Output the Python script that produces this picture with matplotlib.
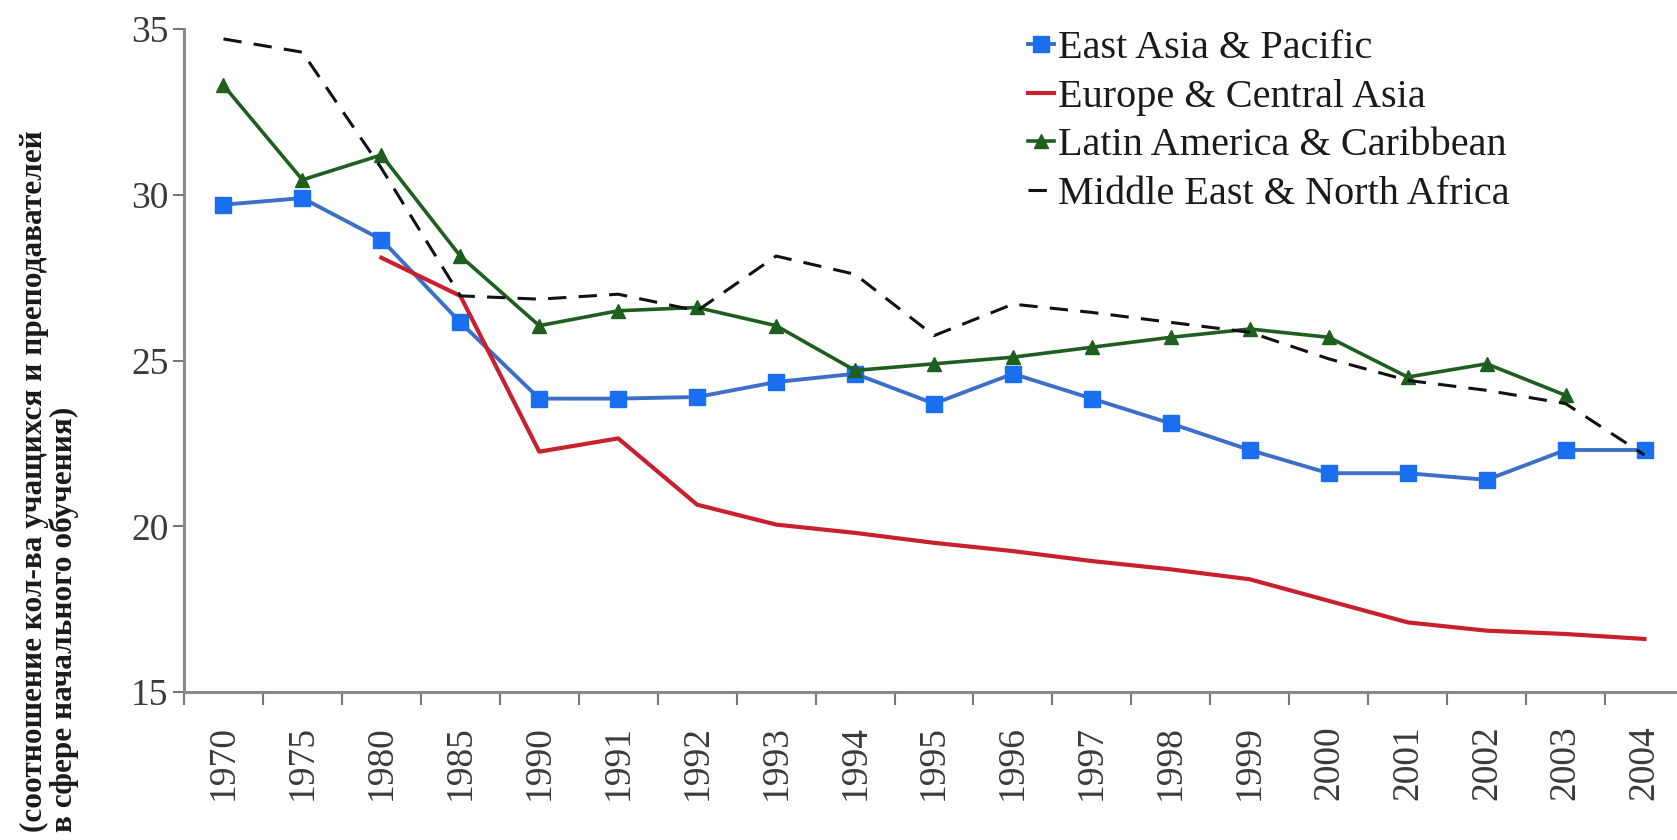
import numpy as np
import matplotlib
matplotlib.use('Agg')
import matplotlib.pyplot as plt
from matplotlib.ticker import FixedLocator, NullFormatter

plt.rcParams['font.family'] = ['Liberation Serif', 'DejaVu Serif']

# Данные (чтение с графика)
years = ['1970', '1975', '1980', '1985', '1990', '1991', '1992', '1993', '1994', '1995',
         '1996', '1997', '1998', '1999', '2000', '2001', '2002', '2003', '2004']

east_asia = [29.7, 29.9, 28.65, 26.15, 23.85, 23.85, 23.9, 24.35, 24.6, 23.7,
             24.6, 23.85, 23.1, 22.3, 21.6, 21.6, 21.4, 22.3, 22.3]
europe = [np.nan, np.nan, 28.1, 26.95, 22.25, 22.65, 20.65, 20.05, 19.8, 19.5,
          19.25, 18.95, 18.7, 18.4, 17.75, 17.1, 16.85, 16.75, 16.6]
latin = [33.3, 30.45, 31.2, 28.15, 26.05, 26.5, 26.6, 26.05, 24.7, 24.9,
         25.1, 25.4, 25.7, 25.95, 25.7, 24.5, 24.9, 23.95, np.nan]
mena = [34.7, 34.3, 30.8, 26.95, 26.85, 27.0, 26.5, 28.15, 27.6, 25.75,
        26.7, 26.45, 26.15, 25.85, 25.05, 24.4, 24.1, 23.7, 22.15]

labels = ['East Asia & Pacific', 'Europe & Central Asia',
          'Latin America & Caribbean', 'Middle East & North Africa']

W, H = 1677, 840
fig = plt.figure(figsize=(W / 100, H / 100), dpi=100, facecolor='white')
ax = fig.add_axes([184 / W, 1 - 692 / H, 1500 / W, (692 - 29) / H])

x = np.arange(len(years))
ax.plot(x, east_asia, color='#3B6FC8', lw=2.8, marker='s', ms=11,
        mfc='#1A6EF0', mec='#1A6EF0', label=labels[0], zorder=3)
ax.plot(x, europe, color='#C8202E', lw=3.0, label=labels[1], zorder=3)
ax.plot(x, latin, color='#1E5E1E', lw=2.6, marker='^', ms=10,
        mfc='#1E5E1E', mec='#1E5E1E', label=labels[2], zorder=4)
ax.plot(x, mena, color='#111111', lw=2.2, ls=(0, (6, 4)), label=labels[3], zorder=5)

ax.set_xlim(-0.5, len(years) - 0.5)
ax.set_ylim(15, 35)
ax.set_yticks([15, 20, 25, 30, 35])

# подписи по центру, засечки на границах категорий
ax.set_xticks(x)
ax.set_xticklabels(years, rotation=90)
ax.xaxis.set_minor_locator(FixedLocator(np.arange(-0.5, len(years), 1.0)))
ax.xaxis.set_minor_formatter(NullFormatter())
ax.tick_params(axis='x', which='major', length=0, pad=24, labelsize=27, labelcolor='#3a3a3a')
ax.tick_params(axis='x', which='minor', length=9, width=1.5, color='#777777', direction='out')
ax.tick_params(axis='y', length=8, width=1.5, color='#777777', pad=3,
               labelsize=27, labelcolor='#3a3a3a')

for s in ['top', 'right']:
    ax.spines[s].set_visible(False)
for s in ['left', 'bottom']:
    ax.spines[s].set_color('#8a8a8a')
    ax.spines[s].set_linewidth(2.2)

leg = ax.legend(loc='upper left', bbox_to_anchor=(1028 / W, 1 - 30 / H),
                bbox_transform=fig.transFigure, frameon=False, fontsize=29,
                handlelength=0.65, handletextpad=0.1, labelspacing=0.28,
                borderpad=0, borderaxespad=0)
for t in leg.get_texts():
    t.set_color('#1a1a1a')

fig.text(49 / W, 1 - 832 / H,
         '(соотношение кол-ва учащихся и преподавателей\nв сфере начального обучения)',
         rotation=90, ha='center', va='bottom', multialignment='left',
         fontsize=22.5, fontweight='bold', linespacing=1.0, color='#1a1a1a')

fig.savefig('out.png', dpi=100, facecolor='white')
